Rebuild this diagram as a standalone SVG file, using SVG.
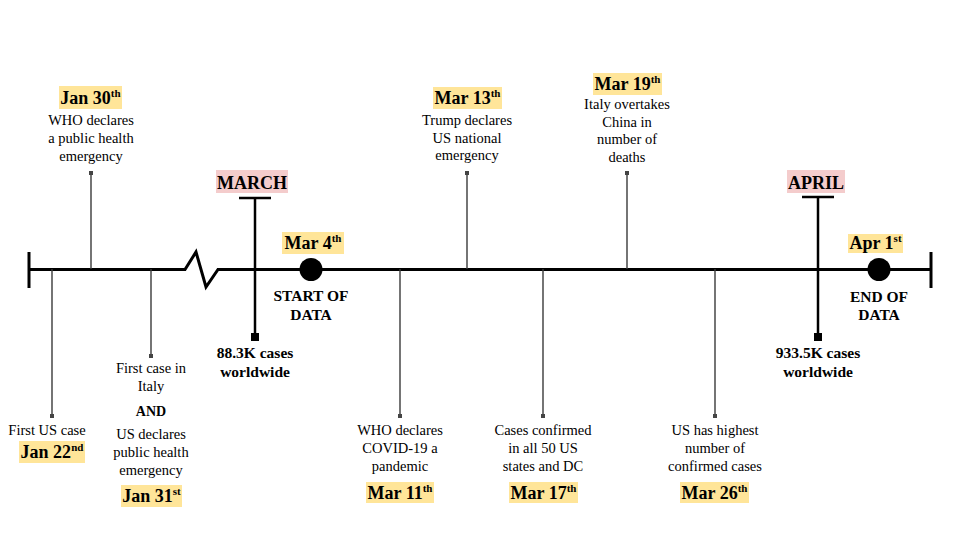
<svg xmlns="http://www.w3.org/2000/svg" width="960" height="540" viewBox="0 0 960 540">
<style>
text{font-family:"Liberation Serif","Times New Roman",serif;fill:#000;text-anchor:middle}
.t{font-size:14.5px}
.b{font-size:15.5px;font-weight:bold}
.d{font-size:18px;font-weight:bold}
.s{font-size:11px}
.y{fill:#ffe599}
.p{fill:#f4cccc}
.stem{stroke:#3a3a3a;stroke-width:1.4;fill:none}
.dot{fill:#444}
.thick{stroke:#000;stroke-width:2.5;fill:none}
</style>
<rect width="960" height="540" fill="#fff"/>
<g id="connectors">
<path d="M29,269.5 H185 L196,252 L206,287 L218,269.5 H931" stroke="#000" stroke-width="3" fill="none"/>
<line x1="29" y1="252" x2="29" y2="288" stroke="#000" stroke-width="3"/>
<line x1="931" y1="252" x2="931" y2="288" stroke="#000" stroke-width="3"/>
<line class="stem" x1="91" y1="173" x2="91" y2="269"/>
<line class="stem" x1="467" y1="173" x2="467" y2="269"/>
<line class="stem" x1="627" y1="173" x2="627" y2="269"/>
<line class="stem" x1="52" y1="269" x2="52" y2="416"/>
<line class="stem" x1="151" y1="269" x2="151" y2="356"/>
<line class="stem" x1="400" y1="269" x2="400" y2="416"/>
<line class="stem" x1="543" y1="269" x2="543" y2="416"/>
<line class="stem" x1="715" y1="269" x2="715" y2="416"/>
</g>
<g id="jan30">
<rect class="dot" x="89" y="171" width="4" height="4"/>
<rect class="y" x="59" y="86" width="63" height="23"/>
<text class="d" x="90.5" y="104">Jan 30<tspan class="s" dy="-7">th</tspan></text>
<text class="t" x="91" y="125">WHO declares</text>
<text class="t" x="91" y="143">a public health</text>
<text class="t" x="91" y="161">emergency</text>
</g>
<g id="mar13">
<rect class="dot" x="465" y="171" width="4" height="4"/>
<rect class="y" x="433" y="87" width="69" height="22"/>
<text class="d" x="467.5" y="104">Mar 13<tspan class="s" dy="-7">th</tspan></text>
<text class="t" x="467" y="125">Trump declares</text>
<text class="t" x="467" y="143">US national</text>
<text class="t" x="467" y="160">emergency</text>
</g>
<g id="mar19">
<rect class="dot" x="625" y="171" width="4" height="4"/>
<rect class="y" x="593" y="73" width="69" height="22"/>
<text class="d" x="627.5" y="90">Mar 19<tspan class="s" dy="-7">th</tspan></text>
<text class="t" x="627" y="109">Italy overtakes</text>
<text class="t" x="627" y="127">China in</text>
<text class="t" x="627" y="144">number of</text>
<text class="t" x="627" y="162">deaths</text>
</g>
<g id="jan22">
<rect class="dot" x="50" y="414" width="4" height="4"/>
<text class="t" x="47" y="435">First US case</text>
<rect class="y" x="19" y="441" width="66" height="22"/>
<text class="d" x="52" y="458">Jan 22<tspan class="s" dy="-7">nd</tspan></text>
</g>
<g id="jan31">
<rect class="dot" x="149" y="354" width="4" height="4"/>
<text class="t" x="151" y="373">First case in</text>
<text class="t" x="151" y="391">Italy</text>
<text class="t" x="151" y="416" style="font-weight:bold;font-size:14px">AND</text>
<text class="t" x="151" y="439">US declares</text>
<text class="t" x="151" y="457">public health</text>
<text class="t" x="151" y="475">emergency</text>
<rect class="y" x="121" y="485" width="61" height="22"/>
<text class="d" x="151.5" y="502">Jan 31<tspan class="s" dy="-7">st</tspan></text>
</g>
<g id="mar11">
<rect class="dot" x="398" y="414" width="4" height="4"/>
<text class="t" x="400" y="435">WHO declares</text>
<text class="t" x="400" y="453">COVID-19 a</text>
<text class="t" x="400" y="471">pandemic</text>
<rect class="y" x="366" y="482" width="68" height="21"/>
<text class="d" x="400" y="499">Mar 11<tspan class="s" dy="-7">th</tspan></text>
</g>
<g id="mar17">
<rect class="dot" x="541" y="414" width="4" height="4"/>
<text class="t" x="543" y="435">Cases confirmed</text>
<text class="t" x="543" y="453">in all 50 US</text>
<text class="t" x="543" y="471">states and DC</text>
<rect class="y" x="509" y="482" width="69" height="21"/>
<text class="d" x="543.5" y="499">Mar 17<tspan class="s" dy="-7">th</tspan></text>
</g>
<g id="mar26">
<rect class="dot" x="713" y="414" width="4" height="4"/>
<text class="t" x="715" y="435">US has highest</text>
<text class="t" x="715" y="453">number of</text>
<text class="t" x="715" y="471">confirmed cases</text>
<rect class="y" x="680" y="482" width="69" height="21"/>
<text class="d" x="714.5" y="499">Mar 26<tspan class="s" dy="-7">th</tspan></text>
</g>
<g id="march">
<rect class="p" x="216" y="170" width="72" height="23"/>
<text class="d" x="252" y="189">MARCH</text>
<line class="thick" x1="239" y1="198" x2="271" y2="198"/>
<line class="thick" x1="255" y1="198" x2="255" y2="337"/>
<rect x="251" y="333" width="8" height="8" fill="#000"/>
<text class="b" x="255" y="358">88.3K cases</text>
<text class="b" x="255" y="377">worldwide</text>
</g>
<g id="april">
<rect class="p" x="787" y="170" width="58" height="23"/>
<text class="d" x="816" y="189">APRIL</text>
<line class="thick" x1="802" y1="197" x2="834" y2="197"/>
<line class="thick" x1="818" y1="197" x2="818" y2="337"/>
<rect x="814" y="333" width="8" height="8" fill="#000"/>
<text class="b" x="818" y="358">933.5K cases</text>
<text class="b" x="818" y="377">worldwide</text>
</g>
<g id="mar4">
<rect class="y" x="282" y="232" width="62" height="22"/>
<text class="d" x="313" y="249">Mar 4<tspan class="s" dy="-7">th</tspan></text>
<circle cx="311" cy="269.5" r="11.5" fill="#000"/>
<text class="b" x="311" y="301">START OF</text>
<text class="b" x="311" y="320">DATA</text>
</g>
<g id="apr1">
<rect class="y" x="848" y="234" width="55" height="19"/>
<text class="d" x="875.5" y="249">Apr 1<tspan class="s" dy="-7">st</tspan></text>
<circle cx="879" cy="269.5" r="11.5" fill="#000"/>
<text class="b" x="879" y="302">END OF</text>
<text class="b" x="879" y="320">DATA</text>
</g>
</svg>
